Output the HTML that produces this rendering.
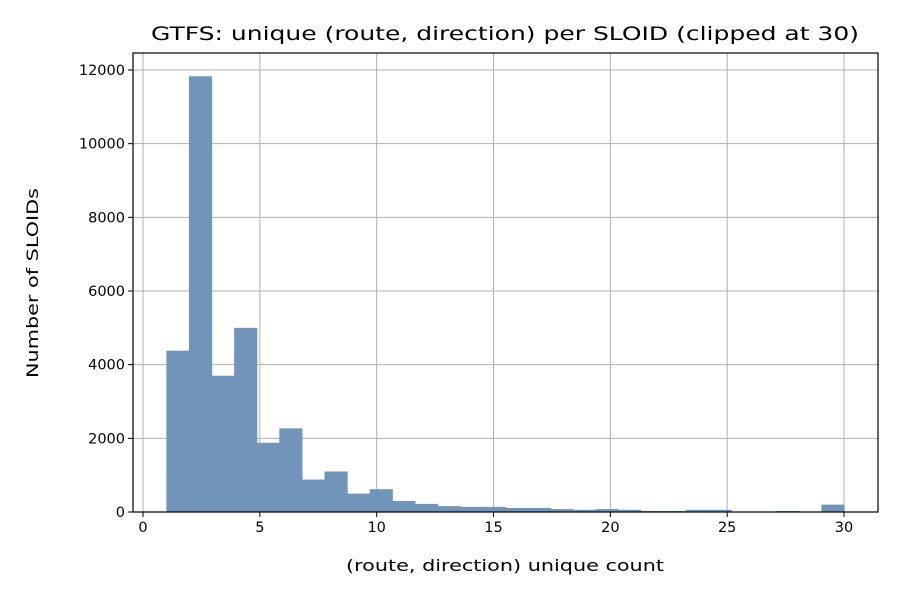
<!DOCTYPE html>
<html><head><meta charset="utf-8"><style>
body{margin:0;background:#fff;font-family:"Liberation Sans","DejaVu Sans",sans-serif}
</style></head><body>
<svg id="chart" width="900" height="600" xmlns="http://www.w3.org/2000/svg" font-family="DejaVu Sans, Liberation Sans, sans-serif"></svg>
<script>
const counts=[4380,11830,3700,5000,1880,2270,880,1100,500,620,300,220,160,140,140,110,110,80,60,80,60,30,30,60,60,0,0,30,0,200];
const binStart=1, binEnd=30;
const xTicks=[0,5,10,15,20,25,30];
const yTicks=[0,2000,4000,6000,8000,10000,12000];
const NS="http://www.w3.org/2000/svg";
const svg=document.getElementById('chart');
const L=133,R=878,T=53,B=512;
const sx=v=>143+(v-0)*(844-143)/30;
const sy=v=>512-v*(512-70)/12000;
function mk(t,a,p){const e=document.createElementNS(NS,t);for(const k in a)e.setAttribute(k,a[k]);(p||svg).appendChild(e);return e;}
xTicks.forEach(v=>{
 const g=mk('line',{x1:sx(v),x2:sx(v),y1:T,y2:B,stroke:'#b0b0b0','stroke-width':1});
 
 mk('line',{x1:sx(v),x2:sx(v),y1:B,y2:B+5,stroke:'#000'});
 const t=mk('text',{x:sx(v),y:B+20,'text-anchor':'middle','font-size':14.5});t.textContent=v;
 
});
yTicks.forEach(v=>{
 const g=mk('line',{x1:L,x2:R,y1:sy(v),y2:sy(v),stroke:'#b0b0b0','stroke-width':1});
 
 mk('line',{x1:L-5,x2:L,y1:sy(v),y2:sy(v),stroke:'#000'});
 const t=mk('text',{x:L-8,y:sy(v)+5,'text-anchor':'end','font-size':14.5});t.textContent=v;
 
});
const w=(binEnd-binStart)/counts.length;
counts.forEach((c,i)=>{
 const x0=sx(binStart+i*w),x1=sx(binStart+(i+1)*w);
 const r=mk('rect',{x:x0,y:sy(c),width:x1-x0+0.6,height:B-sy(c),fill:'#7194ba'});
 
 
});
const fr=mk('rect',{x:L,y:T,width:R-L,height:B-T,fill:'none',stroke:'#000','stroke-width':1.2});

const ti=mk('text',{x:505,y:40,'text-anchor':'middle','font-size':19,textLength:708,lengthAdjust:'spacingAndGlyphs'});ti.textContent='GTFS: unique (route, direction) per SLOID (clipped at 30)';

const xl=mk('text',{x:505,y:571,'text-anchor':'middle','font-size':16,textLength:318,lengthAdjust:'spacingAndGlyphs'});xl.textContent='(route, direction) unique count';

const yl=mk('text',{x:0,y:0,'text-anchor':'middle','font-size':16,textLength:190,lengthAdjust:'spacingAndGlyphs',transform:'translate(38,283) rotate(-90)'});yl.textContent='Number of SLOIDs';

</script>
</body></html>
